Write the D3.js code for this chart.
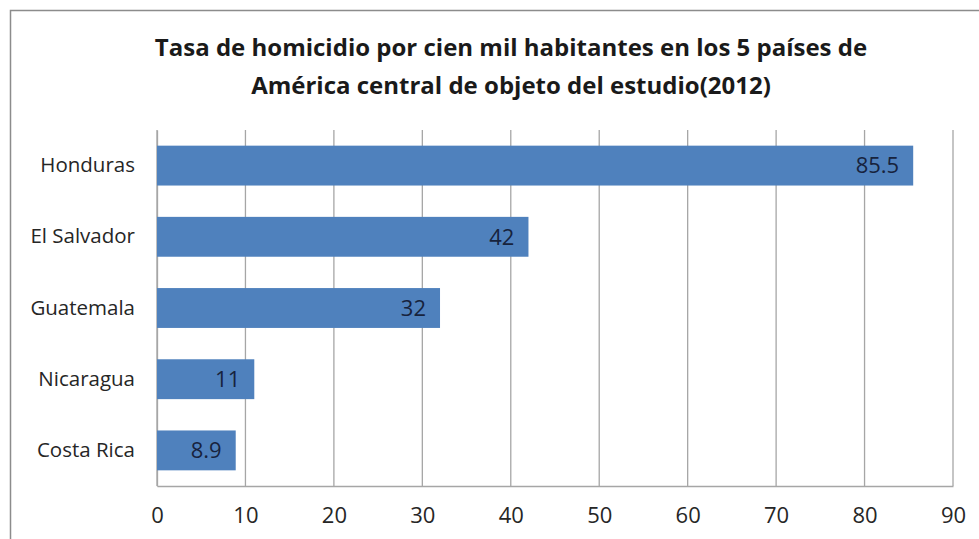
<!DOCTYPE html>
<html>
<head>
<meta charset="utf-8">
<script src="https://cdn.jsdelivr.net/npm/d3@7"></script>
<style>
	body { margin: 0; background: white; }
	text { font-family: "Open Sans", "Noto Sans", sans-serif; }
</style>
</head>
<body>
<svg id="chart" width="979" height="539"></svg>
<script>
var countries = ["Honduras", "El Salvador", "Guatemala", "Nicaragua", "Costa Rica"];
var rates = [85.5, 42, 32, 11, 8.9];
var ticks = [0, 10, 20, 30, 40, 50, 60, 70, 80, 90];
var titleLines = [
	"Tasa de homicidio por cien mil habitantes en los 5 países de",
	"América central de objeto del estudio(2012)"
];

var svg = d3.select("#chart"),
	plotLeft = 157, plotRight = 953, plotTop = 130, plotBottom = 486;

// outer chart frame
svg.append("rect")
	.attr("x", 10.5).attr("y", 10.5)
	.attr("width", 1000).attr("height", 1000)
	.style("fill", "white")
	.style("stroke", "#8c8c8c")
	.style("stroke-width", 1.5);

svg.selectAll("text.title")
	.data(titleLines)
	.enter().append("text")
	.attr("class", "title")
	.attr("x", 511)
	.attr("y", function (d, i) { return 56 + i * 38; })
	.attr("text-anchor", "middle")
	.style("font-size", "24px")
	.style("font-weight", "bold")
	.style("fill", "#1a1a1a")
	.text(function (d) { return d; });

var x = d3.scaleLinear().domain([0, 90]).range([plotLeft, plotRight]);
var y = d3.scaleBand().domain(countries).range([plotTop, plotBottom]).paddingInner(0.44).paddingOuter(0.22);

// gridlines
svg.append("g")
	.selectAll("line")
	.data(ticks)
	.enter().append("line")
	.attr("x1", function (d) { return x(d); })
	.attr("x2", function (d) { return x(d); })
	.attr("y1", plotTop)
	.attr("y2", plotBottom)
	.style("stroke", "#a6a6a6")
	.style("stroke-width", 1.3);

var xAxis = svg.append("g")
	.attr("transform", "translate(0," + plotBottom + ")")
	.call(d3.axisBottom(x).tickValues(ticks).tickSize(0).tickPadding(21));
xAxis.select(".domain").style("stroke", "#a6a6a6").style("stroke-width", 1.3);
xAxis.selectAll("text").style("font-size", "22px").style("fill", "#262626").attr("font-family", null);

var yAxis = svg.append("g")
	.attr("transform", "translate(" + plotLeft + ",0)")
	.call(d3.axisLeft(y).tickSize(0).tickPadding(22));
yAxis.select(".domain").style("stroke", "#a6a6a6").style("stroke-width", 1.3);
yAxis.selectAll("text").style("font-size", "20.5px").style("fill", "#262626").attr("font-family", null);

svg.append("g")
	.selectAll("rect")
	.data(rates)
	.enter().append("rect")
	.attr("x", x(0))
	.attr("y", function (d, i) { return y(countries[i]); })
	.attr("width", function (d) { return x(d) - x(0); })
	.attr("height", y.bandwidth())
	.style("fill", "#4f81bd");

svg.append("g")
	.selectAll("text")
	.data(rates)
	.enter().append("text")
	.attr("x", function (d) { return x(d) - 14; })
	.attr("y", function (d, i) { return y(countries[i]) + y.bandwidth() / 2; })
	.attr("dy", "0.35em")
	.attr("text-anchor", "end")
	.style("font-size", "22px")
	.style("fill", "#17233d")
	.text(function (d) { return d; });
</script>
</body>
</html>
